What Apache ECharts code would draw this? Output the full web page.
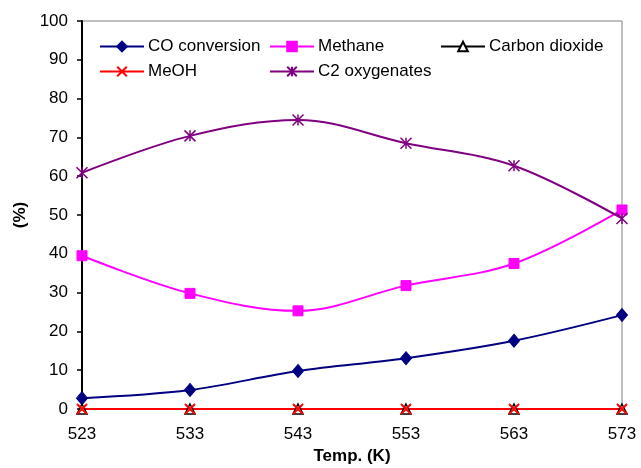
<!DOCTYPE html>
<html>
<head>
<meta charset="utf-8">
<script src="https://cdn.jsdelivr.net/npm/echarts@6/dist/echarts.min.js"></script>
<style>
  html, body { margin: 0; padding: 0; background: #fff; }
  #chart { width: 641px; height: 468px; }
</style>
</head>
<body>
<div id="chart"></div>
<script>
// Reaction temperature (K) and product distribution (%)
const temps = ['523', '533', '543', '553', '563', '573'];
const coConversion = [2.8, 4.9, 9.8, 13.1, 17.6, 24.2];
const methane = [39.5, 29.8, 25.3, 31.8, 37.5, 51.3];
const carbonDioxide = [0, 0, 0, 0, 0, 0];
const meoh = [0, 0, 0, 0, 0, 0];
const c2Oxygenates = [60.9, 70.4, 74.5, 68.5, 62.7, 49.1];
const yTicks = { min: 0, max: 100, step: 10 };

const FONT = '"Liberation Sans", Arial, sans-serif';
const crossPath = 'path://M0,0L10,10M10,0L0,10';
const starPath = 'path://M0,0L10,10M10,0L0,10M5,0L5,10';

function legendAt(name, left, top) {
  return {
    data: [name],
    left: left,
    top: top,
    itemWidth: 44,
    itemHeight: 12,
    itemGap: 0,
    padding: 0,
    selectedMode: false,
    textStyle: { fontFamily: FONT, fontSize: 17, color: '#000', padding: [0, 0, 0, -1] }
  };
}

function lineSeries(name, data, color, symbol, size, extra) {
  return Object.assign({
    name: name,
    type: 'line',
    data: data,
    smooth: 0.35,
    symbol: symbol,
    symbolSize: size,
    showAllSymbol: true,
    lineStyle: { color: color, width: 2 },
    itemStyle: { color: color, borderColor: color, borderWidth: 1 },
    emphasis: { disabled: true },
    animation: false
  }, extra || {});
}

const chart = echarts.init(document.getElementById('chart'), null, { renderer: 'canvas' });
chart.setOption({
  backgroundColor: '#fff',
  animation: false,
  grid: {
    left: 82, right: 19, top: 21, bottom: 59,
    containLabel: false,
    outerBoundsMode: 'none',
    show: true, borderColor: '#808080', borderWidth: 1, backgroundColor: 'transparent'
  },
  legend: [
    legendAt('CO conversion', 99, 38),
    legendAt('Methane', 269, 38),
    legendAt('Carbon dioxide', 440, 38),
    legendAt('MeOH', 99, 63),
    legendAt('C2 oxygenates', 269, 63)
  ],
  xAxis: {
    type: 'category',
    data: temps,
    boundaryGap: false,
    name: 'Temp. (K)',
    nameLocation: 'middle',
    nameGap: 39,
    nameTextStyle: { fontFamily: FONT, fontSize: 17, fontWeight: 'bold', color: '#000' },
    axisLine: { lineStyle: { color: '#000', width: 2 } },
    axisTick: { show: false },
    axisLabel: { fontFamily: FONT, fontSize: 17, color: '#000', margin: 17 },
    splitLine: { show: false }
  },
  yAxis: {
    type: 'value',
    min: yTicks.min,
    max: yTicks.max,
    interval: yTicks.step,
    name: '(%)',
    nameLocation: 'middle',
    nameGap: 53,
    nameRotate: 90,
    nameTextStyle: { fontFamily: FONT, fontSize: 17, fontWeight: 'bold', color: '#000' },
    axisLine: { show: true, lineStyle: { color: '#000', width: 2 } },
    axisTick: { show: true, inside: false, length: 5, lineStyle: { color: '#000', width: 1.5 } },
    axisLabel: { fontFamily: FONT, fontSize: 17, color: '#000', margin: 14 },
    splitLine: { show: false }
  },
  series: [
    lineSeries('CO conversion', coConversion, '#000080', 'diamond', [11, 13]),
    lineSeries('Methane', methane, '#FF00FF', 'rect', 10),
    lineSeries('Carbon dioxide', carbonDioxide, '#000000', 'triangle', 10,
      { itemStyle: { color: '#fff', borderColor: '#000', borderWidth: 1.5 } }),
    lineSeries('MeOH', meoh, '#FF0000', crossPath, 10,
      { itemStyle: { color: 'none', borderColor: '#FF0000', borderWidth: 2 } }),
    lineSeries('C2 oxygenates', c2Oxygenates, '#800080', starPath, 11,
      { itemStyle: { color: 'none', borderColor: '#800080', borderWidth: 1.5 } })
  ]
});
</script>
</body>
</html>
